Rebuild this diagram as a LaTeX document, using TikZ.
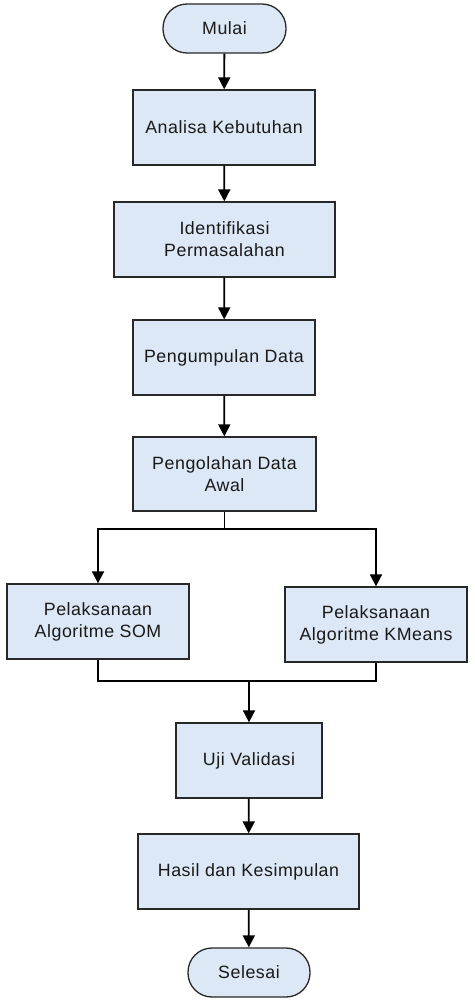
\documentclass[tikz,border=0pt]{standalone}
\usepackage{fontspec}
\setmainfont{Liberation Sans}[LetterSpace=3]
\usetikzlibrary{arrows.meta}
\definecolor{boxfill}{RGB}{220,232,245}
\definecolor{boxline}{RGB}{40,40,40}
\tikzset{
  proc/.style={draw=boxline, line width=1.3pt, fill=boxfill, minimum height=75pt, align=center, inner sep=0pt,
    font=\fontsize{17.8}{22}\selectfont, text=black!90},
  term/.style={proc, rounded corners=24pt, minimum height=49pt},
  conn/.style={line width=1.8pt, black},
  arr/.style={conn, -{Triangle[length=12pt,width=12pt]}}
}
\begin{document}
\begin{tikzpicture}[x=1pt,y=-1pt]
\useasboundingbox (0,0) rectangle (474,1008);
\node[term, minimum width=123pt] (mulai) at (224.5,28.5) {Mulai};
\node[proc, minimum width=182pt] (analisa) at (224,127.5) {Analisa Kebutuhan};
\node[proc, minimum width=221pt] (ident) at (224.5,239.5) {Identifikasi\\Permasalahan};
\node[proc, minimum width=182pt] (kumpul) at (224,357.5) {Pengumpulan Data};
\node[proc, minimum width=183pt, minimum height=74pt] (olah) at (224.5,474) {Pengolahan Data\\Awal};
\node[proc, minimum width=182pt] (som) at (98,621.5) {Pelaksanaan\\Algoritme SOM};
\node[proc, minimum width=182pt] (km) at (376,624.5) {Pelaksanaan\\Algoritme KMeans};
\node[proc, minimum width=146pt] (uji) at (249,760.5) {Uji Validasi};
\node[proc, minimum width=221pt] (hasil) at (248.5,871.5) {Hasil dan Kesimpulan};
\node[term, minimum width=122pt] (selesai) at (249,972.5) {Selesai};
\coordinate (split) at (224.5,529);
\coordinate (join) at (249,681);
\draw[arr] (mulai) -- (analisa);
\draw[arr] (analisa) -- (ident);
\draw[arr] (ident) -- (kumpul);
\draw[arr] (kumpul) -- (olah);
\draw[conn] (olah.south) -- (split);
\draw[arr] (split) -| (som.north);
\draw[arr] (split) -| (km.north);
\draw[conn] (som.south) |- (join);
\draw[conn] (km.south) |- (join);
\draw[arr] (join) -- (uji.north);
\draw[arr] (uji) -- (hasil);
\draw[arr] (hasil) -- (selesai);
\end{tikzpicture}
\end{document}
